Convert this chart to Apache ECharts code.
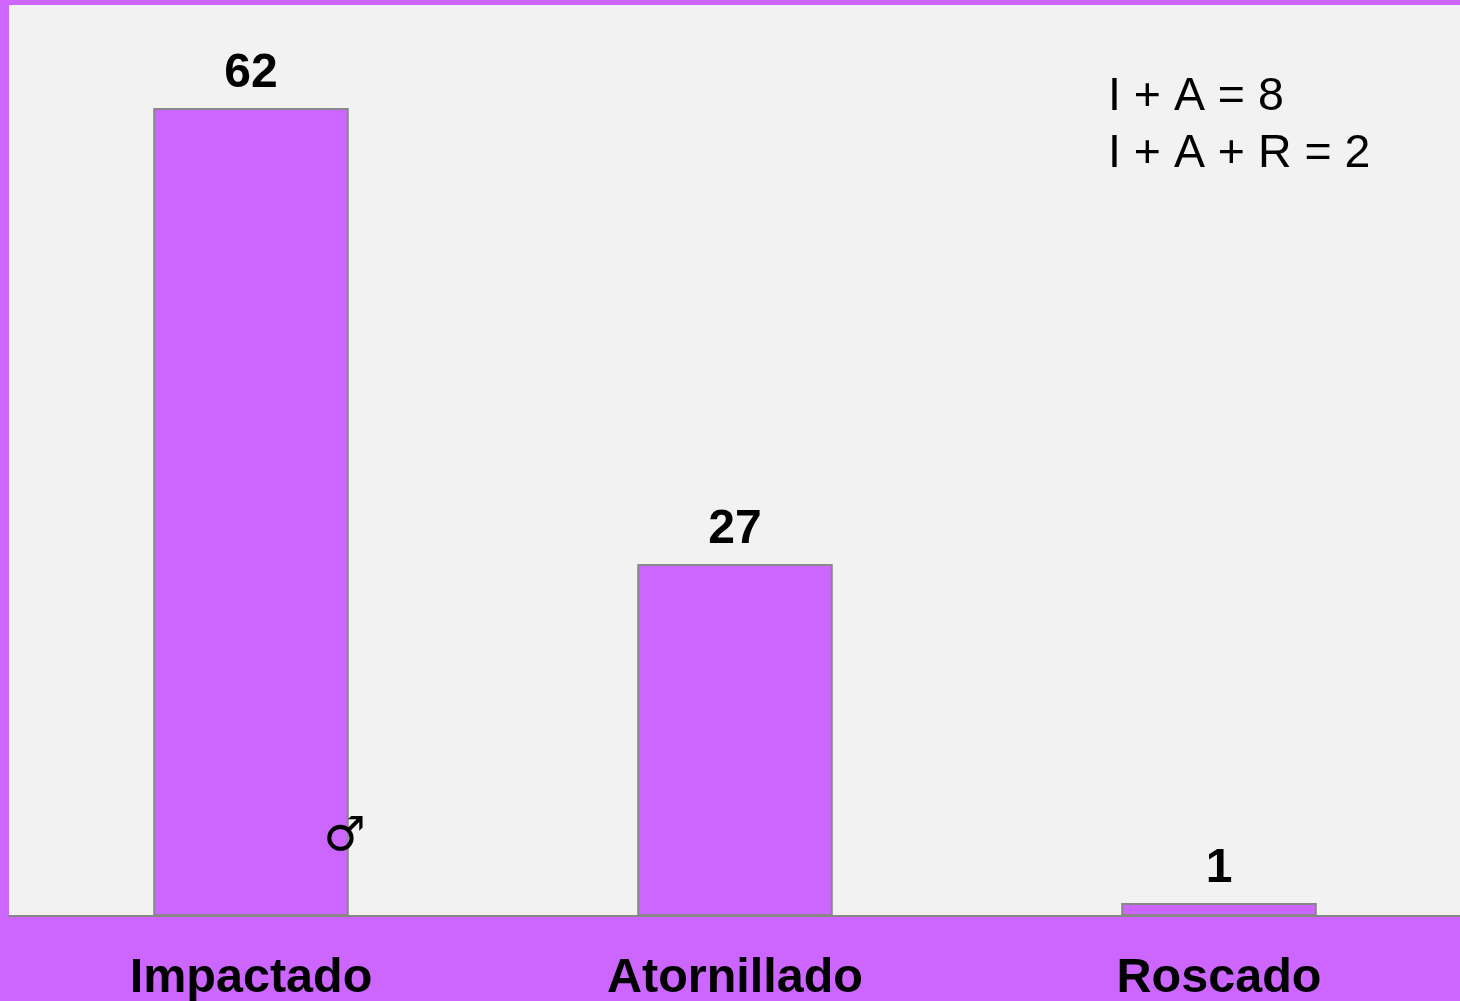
<!DOCTYPE html>
<html>
<head>
<meta charset="utf-8">
<style>html,body{margin:0;padding:0;background:#cc66ff}#c{width:1460px;height:1001px}</style>
<script src="https://cdn.jsdelivr.net/npm/echarts@6/dist/echarts.min.js"></script>
</head>
<body>
<div id="c"></div>
<script>
const categories = ['Impactado', 'Atornillado', 'Roscado'];
const values = [62, 27, 1];
const notes = ['I + A = 8', 'I + A + R = 2'];
const symbolText = '♂';
const font = '"Liberation Sans", Arial, sans-serif';

const chart = echarts.init(document.getElementById('c'), null, {renderer: 'canvas'});
chart.setOption({
  animation: false,
  backgroundColor: '#cc66ff',
  grid: {left: 9, top: 5, width: 1452, height: 911, show: true, backgroundColor: '#f2f2f2', borderWidth: 0, outerBoundsMode: 'none', containLabel: false},
  xAxis: {
    type: 'category', data: categories,
    axisLine: {show: true, lineStyle: {color: '#888888', width: 2}},
    axisTick: {show: false},
    axisLabel: {color: '#000', fontFamily: font, fontWeight: 'bold', fontSize: 48.5, margin: 38, interval: 0}
  },
  yAxis: {type: 'value', min: 0, max: 69.9, show: false, splitLine: {show: false}},
  series: [{
    type: 'bar', data: values, barWidth: '40.4%',
    itemStyle: {color: '#cc66ff', borderColor: '#888888', borderWidth: 2},
    label: {show: true, position: 'top', distance: 10.5, color: '#000', fontFamily: font, fontWeight: 'bold', fontSize: 48}
  }],
  graphic: [
    {type: 'text', z: 100, left: 1108, top: 74, style: {text: notes[0], fontFamily: font, fontSize: 46.5, fill: '#000'}},
    {type: 'text', z: 100, left: 1108, top: 131, style: {text: notes[1], fontFamily: font, fontSize: 46.5, fill: '#000'}},
    {type: 'text', z: 100, left: 323.5, top: 814, style: {text: symbolText, fontFamily: '"DejaVu Sans"', fontWeight: 'bold', fontSize: 47, fill: '#000'}}
  ]
});
</script>
</body>
</html>
